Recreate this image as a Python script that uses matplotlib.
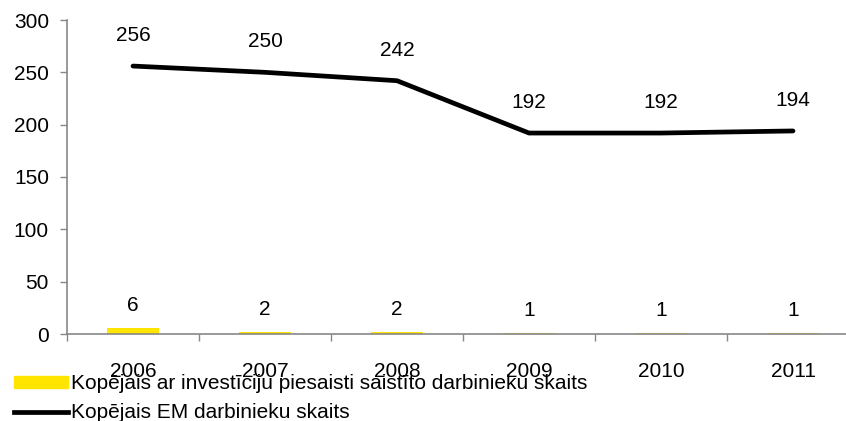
import matplotlib
matplotlib.use("Agg")
import matplotlib.pyplot as plt
import matplotlib.patches as patches
from matplotlib.lines import Line2D
import numpy as np

years = ["2006", "2007", "2008", "2009", "2010", "2011"]
investiciju = [6, 2, 2, 1, 1, 1]
em_kopa = [256, 250, 242, 192, 192, 194]

plt.rcParams['font.family'] = ['Liberation Sans', 'DejaVu Sans']
plt.rcParams['font.size'] = 15

fig = plt.figure(figsize=(8.46, 4.21), dpi=100)
ax = fig.add_axes([67/846, 1-334/421, 792/846, 314/421])

x = np.arange(len(years))
ax.bar(x, investiciju, width=0.4, color='#ffe500', zorder=2)
ax.plot(x, em_kopa, color='black', linewidth=3.4, zorder=3, solid_capstyle='round')

# etykiety wartości
for xi, v in zip(x, investiciju):
    ax.annotate(str(v), xy=(xi, v), xytext=(0, 16), textcoords='offset points',
                ha='center', va='center')
for xi, v in zip(x, em_kopa):
    ax.annotate(str(v), xy=(xi, v), xytext=(0, 22), textcoords='offset points',
                ha='center', va='center')

ax.set_xlim(-0.5, len(years) - 0.5)
ax.set_ylim(0, 300)
ax.set_yticks(range(0, 301, 50))
ax.set_xticks(x)
ax.set_xticklabels(years)
ax.set_xticks(np.arange(-0.5, len(years), 1), minor=True)
ax.tick_params(axis='x', which='major', length=0, pad=20)
ax.tick_params(axis='x', which='minor', length=5, color='#878787', width=1)
ax.tick_params(axis='y', length=5, color='#878787', width=1, pad=8)

for s in ['top', 'right']:
    ax.spines[s].set_visible(False)
for s in ['left', 'bottom']:
    ax.spines[s].set_color('#878787')
    ax.spines[s].set_linewidth(1.2)

handles = [patches.Patch(color='#ffe500'), Line2D([], [], color='black', linewidth=3.4)]
labels = ["Kopējais ar investīciju piesaisti saistīto darbinieku skaits",
          "Kopējais EM darbinieku skaits"]
fig.legend(handles, labels, loc='upper left', bbox_to_anchor=(14/846, 1-374/421),
           frameon=False, handlelength=2.6, handleheight=0.5, handletextpad=0.15,
           labelspacing=0.5, borderpad=0, borderaxespad=0)

fig.savefig("out.png", dpi=100)
